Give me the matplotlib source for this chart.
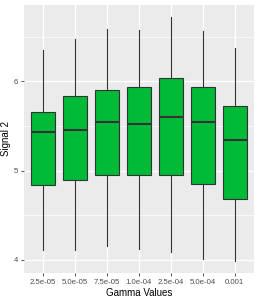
import matplotlib
matplotlib.use("Agg")
import matplotlib.pyplot as plt

plt.rcParams['font.family'] = ['Liberation Sans', 'DejaVu Sans']

categories = ["2.5e-05", "5.0e-05", "7.5e-05", "1.0e-04", "2.5e-04", "5.0e-04", "0.001"]
whisker_low = [4.11, 4.11, 4.16, 4.12, 4.09, 4.01, 3.99]
q1 = [4.84, 4.89, 4.95, 4.95, 4.95, 4.85, 4.68]
median = [5.43, 5.46, 5.54, 5.52, 5.60, 5.55, 5.34]
q3 = [5.66, 5.84, 5.90, 5.94, 6.04, 5.94, 5.73]
whisker_high = [6.35, 6.48, 6.59, 6.58, 6.72, 6.57, 6.37]

fig = plt.figure(figsize=(2.58, 3.0), dpi=100)
ax = fig.add_axes([23.5/258, 27/300, (253.9-23.5)/258, (273-5)/300])
ax.set_facecolor("#EBEBEB")

stats = []
for i, c in enumerate(categories):
    stats.append(dict(label=c, whislo=whisker_low[i], q1=q1[i], med=median[i],
                      q3=q3[i], whishi=whisker_high[i], fliers=[]))
pos = list(range(1, len(categories) + 1))
ax.bxp(stats, positions=pos, widths=0.75, patch_artist=True, showcaps=False,
       boxprops=dict(facecolor="#00BA38", edgecolor="#333333", linewidth=0.8),
       medianprops=dict(color="#333333", linewidth=1.5),
       whiskerprops=dict(color="#333333", linewidth=0.8),
       zorder=3)

ax.set_xlim(0.4, len(categories) + 0.6)
lo = min(whisker_low); hi = max(whisker_high)
r = hi - lo
ax.set_ylim(lo - 0.05 * r, hi + 0.05 * r)
ax.set_yticks([4, 5, 6])
ax.set_yticks([4.5, 5.5, 6.5], minor=True)
ax.set_xticks(pos)
ax.set_xticklabels(categories)
ax.grid(True, which="major", color="white", linewidth=1.0, zorder=0)
ax.grid(True, which="minor", axis="y", color="white", linewidth=0.5, zorder=0)
ax.set_axisbelow(True)
for s in ax.spines.values():
    s.set_visible(False)
ax.tick_params(axis="both", which="major", length=2.5, width=0.6, color="#333333",
               labelsize=5.6, labelcolor="#4D4D4D", pad=1.5)
ax.tick_params(axis="y", which="minor", length=0)
ax.set_xlabel("Gamma Values", fontsize=7, color="black", labelpad=2)
ax.set_ylabel("Signal 2", fontsize=7, color="black", labelpad=1.5)

fig.savefig("out.png", dpi=100, facecolor="white")
